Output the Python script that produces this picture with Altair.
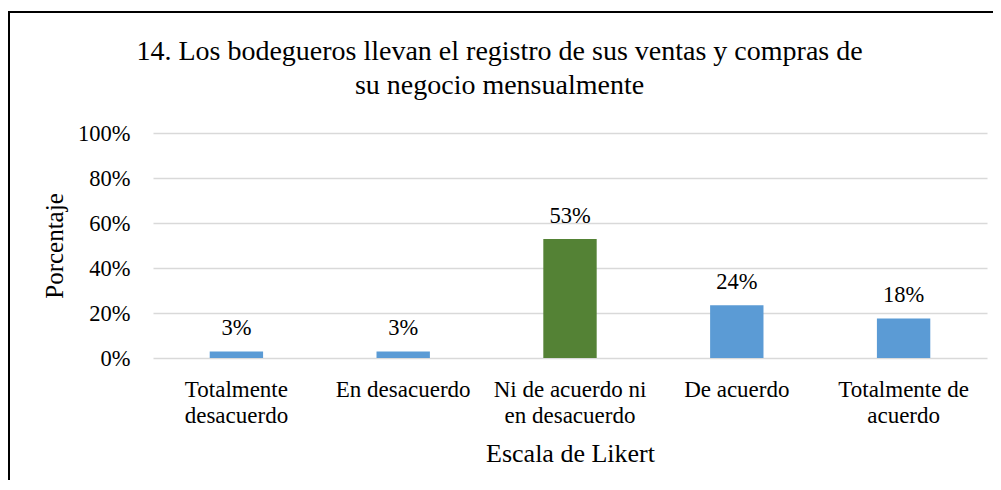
import altair as alt
import pandas as pd

CATEGORIES = ["Totalmente\ndesacuerdo", "En desacuerdo", "Ni de acuerdo ni\nen desacuerdo",
              "De acuerdo", "Totalmente de\nacuerdo"]
VALUES = [0.029, 0.029, 0.529, 0.235, 0.176]
COLORS = ["#5B9BD5", "#5B9BD5", "#548235", "#5B9BD5", "#5B9BD5"]
Y_TICKS = [0, 0.2, 0.4, 0.6, 0.8, 1.0]
TITLE_LINES = ["14. Los bodegueros llevan el registro de sus ventas y compras de",
               "su negocio mensualmente"]
X_TITLE = "Escala de Likert"
Y_TITLE = "Porcentaje"

FONT = "Liberation Serif"
W, H = 834, 225

df = pd.DataFrame({"cat": CATEGORIES, "val": VALUES, "color": COLORS})
one = pd.DataFrame({"k": [0]})

x = alt.X(
    "cat:N", sort=CATEGORIES,
    scale=alt.Scale(paddingInner=0.68, paddingOuter=0.34),
    axis=alt.Axis(
        title=X_TITLE, labelExpr="split(datum.label, '\\n')", labelAngle=0,
        labelFont=FONT, labelFontSize=23, labelColor="black",
        labelBaseline="alphabetic", labelPadding=38, labelLineHeight=26,
        ticks=False, domain=False,
        titleFont=FONT, titleFontSize=26, titleFontWeight="normal", titleColor="black",
        titleBaseline="alphabetic", titleY=103, titleAlign="center",
    ),
)
y = alt.Y(
    "val:Q", scale=alt.Scale(domain=[0, 1]),
    axis=alt.Axis(
        values=Y_TICKS, format=".0%", title=Y_TITLE,
        labelFont=FONT, labelFontSize=22.5, labelColor="black", labelPadding=23,
        ticks=False, domain=False, gridColor="#D9D9D9", gridWidth=1.5,
        titleFont=FONT, titleFontSize=25, titleFontWeight="normal", titleColor="black",
        titleAngle=-90, titleX=-91, titleY=H / 2, titleBaseline="alphabetic",
        titleAlign="center",
    ),
)

border = alt.Chart(one).mark_rect(fill="transparent", stroke="black", strokeWidth=2).encode(
    x=alt.value(-144), x2=alt.value(900), y=alt.value(-121), y2=alt.value(400)
)
title = alt.Chart(one).mark_text(
    text=TITLE_LINES, font=FONT, fontSize=28, lineHeight=34, align="center",
    baseline="alphabetic", color="black"
).encode(x=alt.value(346.5), y=alt.value(-73))

bars = alt.Chart(df).mark_bar().encode(x=x, y=y, color=alt.Color("color:N", scale=None))
labels = alt.Chart(df).mark_text(
    dy=-16, baseline="alphabetic", font=FONT, fontSize=22.5, color="black"
).encode(x=x, y=y, text=alt.Text("val:Q", format=".0%"))

chart = alt.layer(border, title, bars, labels).properties(
    width=W, height=H,
    autosize=alt.AutoSizeParams(type="none"),
    padding={"left": 145, "top": 125, "right": 6, "bottom": 122},
    background="white",
).configure_view(strokeWidth=0)

chart.save("out.html", embed_options={"renderer": "svg", "actions": False})
